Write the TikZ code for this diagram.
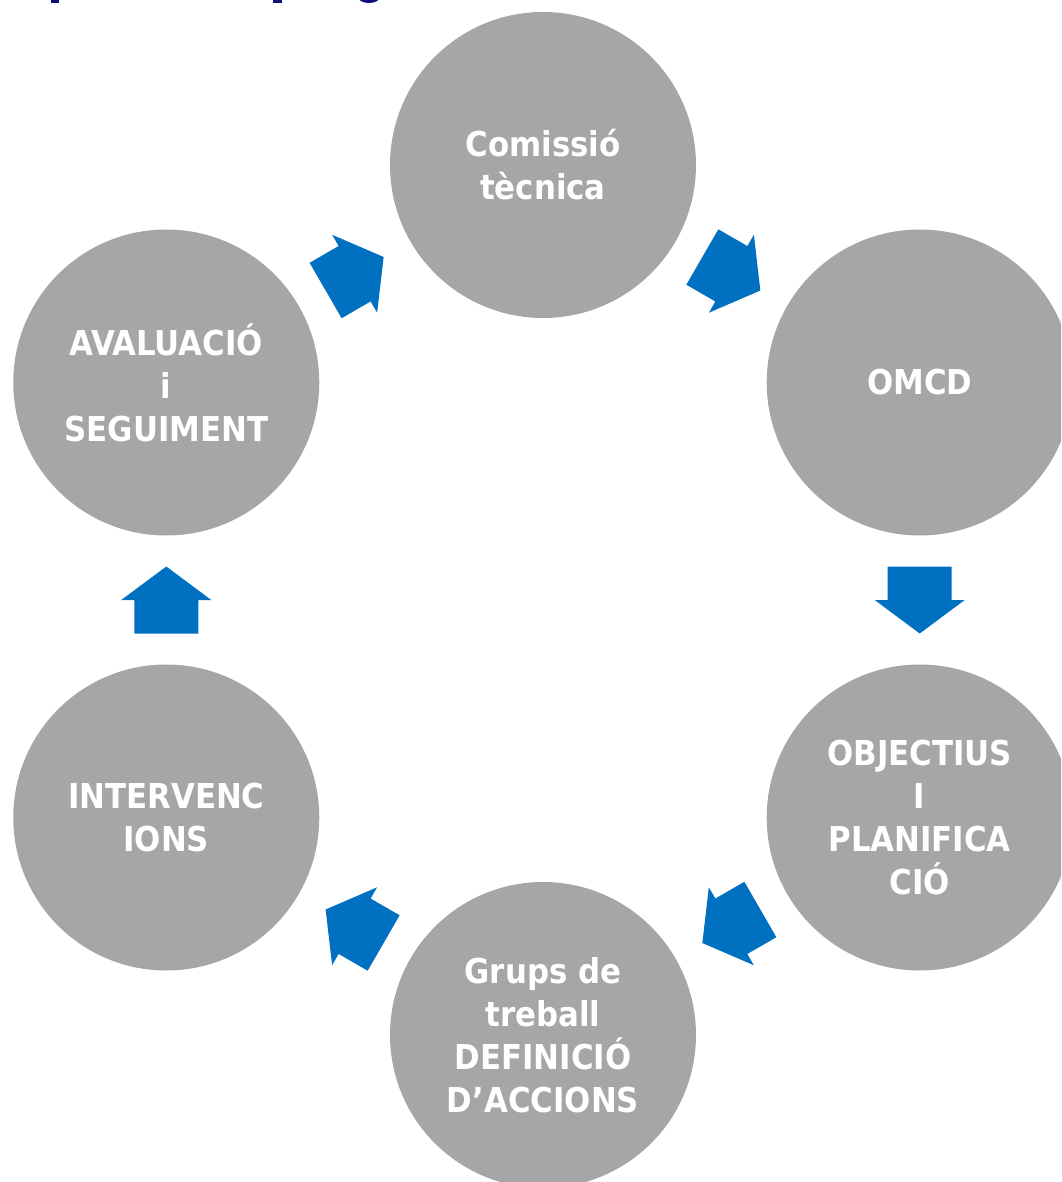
\documentclass[tikz,border=0pt]{standalone}
\usepackage{fontspec}
\newfontfamily\labfont{DejaVu Sans Condensed}
\usetikzlibrary{calc}
\definecolor{circgray}{HTML}{A6A6A6}
\definecolor{arrowblue}{HTML}{0070C0}
\definecolor{titlenavy}{HTML}{10107A}
\begin{document}
\begin{tikzpicture}[x=0.75pt,y=0.75pt,
  stage/.style={circle, fill=circgray, minimum size=229.5pt, inner sep=0pt,
    text=white, align=center,
    font=\labfont\bfseries\fontsize{25.7pt}{32.25pt}\selectfont},
  flowarrow/.style={fill=arrowblue, draw=none}]
\clip (-543,-582) rectangle (518,600);
% cut-off title fragments at the top edge
\fill[titlenavy] (-492,597) rectangle (-484,601);
\fill[titlenavy] (-270,597) rectangle (-261,601);
\fill[titlenavy] (-174,603) ellipse [x radius=11, y radius=6];
% stages
\node[stage] (c1) at (90:435) {Comissió\\tècnica};
\node[stage] (c2) at (30:435) {OMCD};
\node[stage] (c3) at (-30:435) {OBJECTIUS\\I\\PLANIFICA\\CIÓ};
\node[stage] (c4) at (-90:435) {Grups de\\treball\\DEFINICIÓ\\D’ACCIONS};
\node[stage] (c5) at (210:435) {INTERVENC\\IONS};
\node[stage] (c6) at (150:435) {AVALUACIÓ\\i\\SEGUIMENT};
% block arrows between consecutive stages
\foreach \s/\t/\r in {c1/c2/-30, c2/c3/-90, c3/c4/-150, c4/c5/150, c5/c6/90, c6/c1/30}
  \fill[flowarrow, shift={($(\s)!0.5!(\t)$)}, rotate=\r]
    (-33.5,-32) -- (0,-32) -- (0,-45) -- (33.5,0) -- (0,45) -- (0,32) -- (-33.5,32) -- cycle;
\end{tikzpicture}
\end{document}
